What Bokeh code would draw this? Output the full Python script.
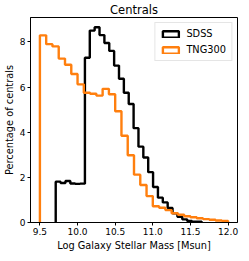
import numpy as np
from bokeh.plotting import figure
from bokeh.models import Range1d, FixedTicker, PrintfTickFormatter, Legend, LegendItem
from bokeh.embed import file_html
from bokeh.resources import INLINE

# SDSS histogram (30 bins of its own range)
sdss_lo, sdss_hi = 9.71, 11.65
sdss_vals = [1.81, 1.75, 1.84, 1.73, 1.71, 1.72,
             7.30, 8.50, 8.65, 8.30, 7.95, 7.60, 6.95, 6.37, 5.75, 5.25,
             4.18, 3.36, 2.88, 2.23, 1.57, 1.10, 0.89, 0.64, 0.41, 0.25,
             0.14, 0.07, 0.04, 0.03]
# TNG300 histogram (30 bins from 9.5 to 12.0)
tng_lo, tng_hi = 9.5, 12.0
tng_vals = [8.29, 7.90, 7.80, 7.26, 6.99, 6.58, 6.12, 5.75, 5.70, 5.62,
            5.92, 5.68, 4.93, 3.84, 2.98, 2.12, 1.66, 1.17, 0.72, 0.65,
            0.55, 0.41, 0.34, 0.28, 0.23, 0.19, 0.15, 0.12, 0.09, 0.07]
x_ticks = [9.5, 10.0, 10.5, 11.0, 11.5, 12.0]
y_ticks = [0, 2, 4, 6, 8]

FONT = "DejaVu Sans"


def step_xy(edges, vals):
    xs, ys = [edges[0]], [0]
    for i, v in enumerate(vals):
        xs += [edges[i], edges[i + 1]]
        ys += [v, v]
    xs.append(edges[-1])
    ys.append(0)
    return xs, ys


sdss_edges = np.linspace(sdss_lo, sdss_hi, len(sdss_vals) + 1)
tng_edges = np.linspace(tng_lo, tng_hi, len(tng_vals) + 1)

p = figure(width=241, height=253, output_backend="svg", toolbar_location=None,
           x_range=Range1d(9.375, 12.125), y_range=Range1d(0, 9.08),
           min_border_left=26, min_border_right=4, min_border_top=2,
           min_border_bottom=22)
p.title.text = "Centrals"
p.title.align = "center"
p.title.text_font = FONT
p.title.text_font_size = "11.5px"
p.title.text_font_style = "normal"
p.title.text_color = "black"
p.title.standoff = 1

p.grid.visible = False
p.outline_line_color = "black"
p.outline_line_width = 1
p.outline_line_alpha = 1

for ax in (p.xaxis[0], p.yaxis[0]):
    ax.major_tick_out = 3
    ax.major_tick_in = 0
    ax.minor_tick_out = 0
    ax.minor_tick_in = 0
    ax.major_label_text_font = FONT
    ax.major_label_text_font_size = "9px"
    ax.major_label_text_color = "black"
    ax.axis_label_text_font = FONT
    ax.axis_label_text_font_size = "9.8px"
    ax.axis_label_text_font_style = "normal"
    ax.axis_label_text_color = "black"
    ax.axis_line_color = "black"
    ax.major_tick_line_color = "black"
    ax.major_label_standoff = 2
    ax.axis_label_standoff = 2

p.xaxis.ticker = FixedTicker(ticks=x_ticks)
p.xaxis.formatter = PrintfTickFormatter(format="%.1f")
p.yaxis.ticker = FixedTicker(ticks=y_ticks)
p.yaxis.formatter = PrintfTickFormatter(format="%d")
p.xaxis.axis_label = "Log Galaxy Stellar Mass [Msun]"
p.yaxis.axis_label = "Percentage of centrals"

sx, sy = step_xy(sdss_edges, sdss_vals)
tx, ty = step_xy(tng_edges, tng_vals)
p.line(sx, sy, line_color="black", line_width=2.4)
p.line(tx, ty, line_color="#ff7f0e", line_width=2.4)

# legend proxies (outlined rectangles, not drawn in the plot)
nan = [float("nan")]
q1 = p.quad(left=nan, right=nan, top=nan, bottom=nan, fill_color="white",
            line_color="black", line_width=2.4)
q2 = p.quad(left=nan, right=nan, top=nan, bottom=nan, fill_color="white",
            line_color="#ff7f0e", line_width=2.4)
legend = Legend(items=[LegendItem(label="SDSS", renderers=[q1], index=0),
                       LegendItem(label="TNG300", renderers=[q2], index=0)],
                location="top_right")
legend.label_text_font = FONT
legend.label_text_font_size = "9.8px"
legend.label_text_color = "black"
legend.glyph_width = 20
legend.glyph_height = 8
legend.label_height = 10
legend.label_standoff = 6
legend.spacing = 5
legend.padding = 5
legend.margin = 5
legend.border_line_color = "#cccccc"
legend.border_line_width = 1
legend.background_fill_alpha = 0.8
p.add_layout(legend)

open("out.html", "w").write(file_html(p, INLINE))
